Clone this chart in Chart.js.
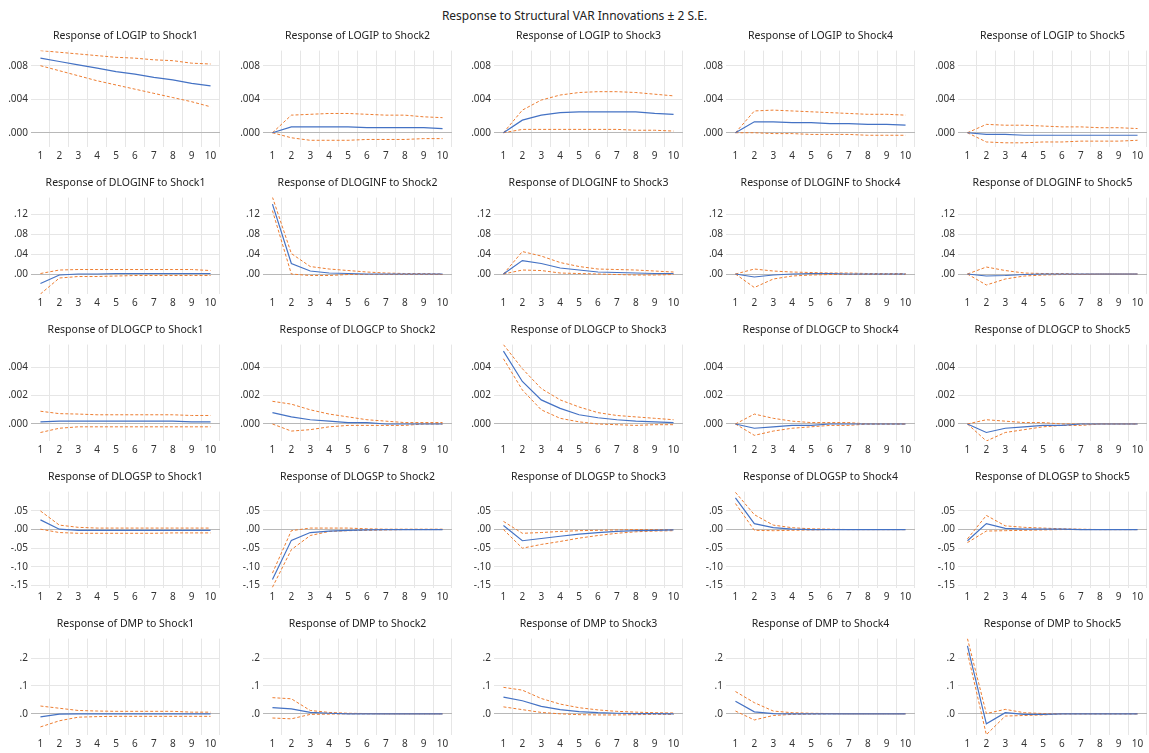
<!DOCTYPE html>
<html>
<head>
<meta charset="utf-8">
<script src="https://cdn.jsdelivr.net/npm/chart.js@4.4.1/dist/chart.umd.min.js"></script>
<style>
  body { margin: 0; background: #fff; }
  #wrap { position: relative; width: 1149px; height: 753px; overflow: hidden; }
  #main { position: absolute; left: 0; top: 7px; width: 1149px; text-align: center;
          font: 12px "Noto Sans", sans-serif; color: #222; }
  canvas { position: absolute; }
</style>
</head>
<body>
<div id="wrap">
  <div id="main">Response to Structural VAR Innovations ± 2 S.E.</div>
</div>
<script>
const periods = ["1", "2", "3", "4", "5", "6", "7", "8", "9", "10"];
const variables = ["LOGIP", "DLOGINF", "DLOGCP", "DLOGSP", "DMP"];
const shocks = ["Shock1", "Shock2", "Shock3", "Shock4", "Shock5"];

// y axis ticks and ranges, one per response variable (row)
const logipTicks = [0, 0.004, 0.008];
const dloginfTicks = [0, 0.04, 0.08, 0.12];
const dlogcpTicks = [0, 0.002, 0.004];
const dlogspTicks = [-0.15, -0.10, -0.05, 0, 0.05];
const dmpTicks = [0, 0.1, 0.2];
const rowRanges = [[-0.0017, 0.0098], [-0.040, 0.153], [-0.0012, 0.0056], [-0.157, 0.102], [-0.076, 0.270]];
const rowDecimals = [3, 2, 3, 2, 1];

// impulse responses (rows = shock1..shock5)
const logipIrf = [
  [0.0089, 0.0085, 0.0081, 0.0077, 0.0073, 0.0070, 0.0066, 0.0063, 0.0059, 0.0056],
  [0, 0.0007, 0.0007, 0.0007, 0.0007, 0.0006, 0.0006, 0.0006, 0.0006, 0.0005],
  [0, 0.0015, 0.0021, 0.0024, 0.0025, 0.0025, 0.0025, 0.0025, 0.0023, 0.0022],
  [0, 0.0013, 0.0013, 0.0012, 0.0012, 0.0011, 0.0011, 0.0010, 0.0010, 0.0009],
  [0, -0.0002, -0.0002, -0.0003, -0.0003, -0.0003, -0.0003, -0.0003, -0.0003, -0.0003]
];
const logipUpper = [
  [0.0098, 0.0096, 0.0094, 0.0092, 0.0090, 0.0089, 0.0087, 0.0086, 0.0083, 0.0082],
  [0, 0.0021, 0.0022, 0.0023, 0.0023, 0.0022, 0.0021, 0.0021, 0.0019, 0.0018],
  [0, 0.0027, 0.0039, 0.0045, 0.0048, 0.0049, 0.0049, 0.0048, 0.0046, 0.0044],
  [0, 0.0026, 0.0027, 0.0026, 0.0025, 0.0024, 0.0023, 0.0022, 0.0022, 0.0021],
  [0, 0.0010, 0.0009, 0.0009, 0.0008, 0.0007, 0.0007, 0.0006, 0.0006, 0.0005]
];
const logipLower = [
  [0.0080, 0.0074, 0.0068, 0.0062, 0.0057, 0.0052, 0.0047, 0.0042, 0.0037, 0.0031],
  [0, -0.0006, -0.0009, -0.0009, -0.0009, -0.0008, -0.0008, -0.0008, -0.0007, -0.0007],
  [0, 0.0004, 0.0004, 0.0004, 0.0004, 0.0004, 0.0004, 0.0003, 0.0003, 0.0002],
  [0, 0.0000, -0.0001, -0.0001, -0.0002, -0.0002, -0.0002, -0.0003, -0.0003, -0.0003],
  [0, -0.0011, -0.0012, -0.0012, -0.0011, -0.0011, -0.0010, -0.0010, -0.0010, -0.0009]
];

const dloginfIrf = [
  [-0.019, -0.002, 0.000, 0.000, 0.001, 0.001, 0.001, 0.001, 0.001, 0.001],
  [0.140, 0.021, 0.006, 0.002, 0.001, 0.000, 0.000, 0.000, 0.000, 0.000],
  [0, 0.027, 0.021, 0.012, 0.008, 0.004, 0.003, 0.002, 0.001, 0.001],
  [0, -0.006, -0.002, 0.000, 0.001, 0.001, 0.000, 0.000, 0.000, 0.000],
  [0, -0.004, -0.003, -0.001, 0.000, 0.000, 0.000, 0.000, 0.000, 0.000]
];
const dloginfUpper = [
  [0.001, 0.008, 0.009, 0.009, 0.009, 0.009, 0.009, 0.009, 0.009, 0.007],
  [0.154, 0.041, 0.015, 0.010, 0.007, 0.004, 0.002, 0.001, 0.001, 0.000],
  [0, 0.045, 0.036, 0.023, 0.015, 0.010, 0.009, 0.008, 0.006, 0.004],
  [0, 0.010, 0.006, 0.004, 0.003, 0.002, 0.002, 0.001, 0.001, 0.001],
  [0, 0.014, 0.007, 0.002, 0.001, 0.001, 0.000, 0.000, 0.000, 0.000]
];
const dloginfLower = [
  [-0.040, -0.008, -0.005, -0.005, -0.004, -0.003, -0.003, -0.003, -0.003, -0.003],
  [0.127, 0.000, -0.003, -0.003, -0.001, -0.001, -0.001, -0.001, -0.001, -0.001],
  [0, 0.008, 0.007, 0.002, 0.001, 0.000, -0.001, -0.002, -0.002, -0.001],
  [0, -0.027, -0.010, -0.004, -0.002, -0.001, -0.001, -0.001, -0.001, -0.001],
  [0, -0.022, -0.010, -0.004, -0.002, -0.001, -0.001, 0.000, 0.000, 0.000]
];

const dlogcpIrf = [
  [0.00015, 0.0002, 0.0002, 0.0002, 0.0002, 0.0002, 0.0002, 0.0002, 0.00015, 0.00015],
  [0.0008, 0.0005, 0.0003, 0.0002, 0.0001, 0.0001, 0.0000, 0.0000, 0.0000, 0.0000],
  [0.00514, 0.0030, 0.0017, 0.0011, 0.00065, 0.00044, 0.0003, 0.0002, 0.00015, 0.0001],
  [0, -0.0003, -0.0002, -0.0001, -0.0001, 0.0000, 0.0000, 0.0000, 0.0000, 0.0000],
  [0, -0.0006, -0.0003, -0.0002, -0.0001, -0.0001, 0.0000, 0.0000, 0.0000, 0.0000]
];
const dlogcpUpper = [
  [0.0009, 0.00073, 0.0007, 0.00065, 0.00065, 0.00065, 0.00065, 0.00065, 0.0006, 0.0006],
  [0.0016, 0.0014, 0.0010, 0.0007, 0.0005, 0.0003, 0.0002, 0.0001, 0.0001, 0.0001],
  [0.0056, 0.0039, 0.0025, 0.0017, 0.0012, 0.0008, 0.0006, 0.0005, 0.0004, 0.0003],
  [0, 0.0007, 0.0004, 0.0002, 0.0001, 0.0001, 0.0001, 0.0000, 0.0000, 0.0000],
  [0, 0.0003, 0.0002, 0.0001, 0.0001, 0.0000, 0.0000, 0.0000, 0.0000, 0.0000]
];
const dlogcpLower = [
  [-0.0006, -0.0003, -0.0002, -0.0002, -0.0002, -0.0002, -0.0002, -0.0002, -0.0002, -0.0002],
  [0.0000, -0.0005, -0.0004, -0.0002, -0.0001, -0.0001, -0.0001, -0.0001, 0.0000, 0.0000],
  [0.0046, 0.0024, 0.0010, 0.0004, 0.00015, 0.0000, -0.00005, -0.0001, -0.00005, -0.00005],
  [0, -0.0008, -0.0005, -0.0003, -0.0002, -0.0001, -0.0001, 0.0000, 0.0000, 0.0000],
  [0, -0.0012, -0.0006, -0.0004, -0.0002, -0.0001, -0.0001, 0.0000, 0.0000, 0.0000]
];

const dlogspIrf = [
  [0.026, 0.001, -0.002, -0.002, -0.002, -0.002, -0.002, -0.002, -0.002, -0.002],
  [-0.134, -0.029, -0.008, -0.004, -0.002, -0.001, 0.000, 0.000, 0.000, 0.000],
  [0.011, -0.030, -0.024, -0.018, -0.012, -0.008, -0.005, -0.003, -0.002, -0.001],
  [0.085, 0.016, 0.005, 0.001, 0.000, 0.000, 0.000, 0.000, 0.000, 0.000],
  [-0.030, 0.016, 0.003, 0.001, 0.001, 0.001, 0.000, 0.000, 0.000, 0.000]
];
const dlogspUpper = [
  [0.050, 0.012, 0.006, 0.004, 0.004, 0.004, 0.004, 0.004, 0.004, 0.004],
  [-0.117, -0.003, 0.004, 0.004, 0.004, 0.002, 0.001, 0.001, 0.001, 0.001],
  [0.022, -0.010, -0.008, -0.005, -0.003, -0.002, -0.001, 0.000, 0.000, 0.000],
  [0.100, 0.040, 0.012, 0.005, 0.002, 0.001, 0.000, 0.000, 0.000, 0.000],
  [-0.025, 0.038, 0.010, 0.006, 0.004, 0.002, 0.001, 0.000, 0.000, 0.000]
];
const dlogspLower = [
  [0.001, -0.008, -0.010, -0.010, -0.010, -0.010, -0.010, -0.009, -0.009, -0.009],
  [-0.155, -0.054, -0.016, -0.005, -0.003, -0.002, -0.001, 0.000, 0.000, 0.000],
  [0.000, -0.050, -0.040, -0.032, -0.023, -0.016, -0.010, -0.006, -0.004, -0.003],
  [0.070, -0.002, -0.003, -0.002, -0.001, 0.000, 0.000, 0.000, 0.000, 0.000],
  [-0.035, -0.004, -0.003, -0.002, -0.001, 0.000, 0.000, 0.000, 0.000, 0.000]
];

const dmpIrf = [
  [-0.011, -0.001, 0.000, 0.000, 0.000, 0.000, 0.000, 0.000, 0.000, 0.000],
  [0.022, 0.018, 0.005, 0.002, 0.000, 0.000, 0.000, 0.000, 0.000, 0.000],
  [0.060, 0.047, 0.027, 0.015, 0.008, 0.004, 0.002, 0.001, 0.001, 0.000],
  [0.045, 0.007, 0.001, 0.000, 0.000, 0.000, 0.000, 0.000, 0.000, 0.000],
  [0.244, -0.036, 0.004, -0.002, -0.002, 0.000, 0.000, 0.000, 0.000, 0.000]
];
const dmpUpper = [
  [0.028, 0.020, 0.012, 0.010, 0.009, 0.009, 0.009, 0.009, 0.006, 0.006],
  [0.058, 0.054, 0.012, 0.005, 0.002, 0.001, 0.000, 0.000, 0.000, 0.000],
  [0.095, 0.085, 0.055, 0.035, 0.022, 0.014, 0.009, 0.006, 0.004, 0.003],
  [0.080, 0.040, 0.010, 0.004, 0.002, 0.001, 0.000, 0.000, 0.000, 0.000],
  [0.270, 0.001, 0.016, 0.004, 0.001, 0.000, 0.000, 0.000, 0.000, 0.000]
];
const dmpLower = [
  [-0.047, -0.025, -0.012, -0.010, -0.009, -0.009, -0.009, -0.009, -0.009, -0.009],
  [-0.015, -0.018, -0.002, -0.001, 0.000, 0.000, 0.000, 0.000, 0.000, 0.000],
  [0.025, 0.015, 0.005, 0.000, -0.003, -0.004, -0.004, -0.003, -0.002, -0.002],
  [0.010, -0.022, -0.006, -0.002, -0.001, 0.000, 0.000, 0.000, 0.000, 0.000],
  [0.219, -0.075, -0.008, -0.006, -0.004, 0.000, 0.000, 0.000, 0.000, 0.000]
];

const rowTicks = [logipTicks, dloginfTicks, dlogcpTicks, dlogspTicks, dmpTicks];
const irfs = [logipIrf, dloginfIrf, dlogcpIrf, dlogspIrf, dmpIrf];
const uppers = [logipUpper, dloginfUpper, dlogcpUpper, dlogspUpper, dmpUpper];
const lowers = [logipLower, dloginfLower, dlogcpLower, dlogspLower, dmpLower];

// layout
const plotLeft = [31, 263, 494, 726, 958];
const plotW = 189;
const yAxisW = 31;
const padRight = 6;
const rowStep = 147;
const firstTop = 22;
const canvasH = 142;
const font = "Noto Sans";

function fmtTick(v, dec) {
  let s = Math.abs(v).toFixed(dec).replace(/^0\./, ".");
  return (v < 0 ? "-" : "") + s;
}

const wrap = document.getElementById("wrap");

function makePanel(r, c) {
  const cv = document.createElement("canvas");
  const W = yAxisW + plotW + padRight;
  cv.width = W;
  cv.height = canvasH;
  cv.style.left = (plotLeft[c] - yAxisW) + "px";
  cv.style.top = (firstTop + rowStep * r) + "px";
  cv.style.width = W + "px";
  cv.style.height = canvasH + "px";
  wrap.appendChild(cv);

  const band = { borderColor: "#ED7D31", borderWidth: 1, borderDash: [3, 2], pointRadius: 0, tension: 0, fill: false };

  new Chart(cv, {
    type: "line",
    data: {
      labels: periods,
      datasets: [
        { data: irfs[r][c], borderColor: "#4472C4", borderWidth: 1.2, pointRadius: 0, tension: 0, fill: false },
        Object.assign({ data: uppers[r][c] }, band),
        Object.assign({ data: lowers[r][c] }, band)
      ]
    },
    options: {
      responsive: false,
      animation: false,
      layout: { padding: { left: 0, right: padRight, top: 0, bottom: 0 } },
      plugins: {
        legend: { display: false },
        tooltip: { enabled: false },
        title: {
          display: true,
          fullSize: false,
          text: `Response of ${variables[r]} to ${shocks[c]}`,
          color: "#222",
          font: { family: font, size: 10.5, weight: "normal" },
          padding: { top: 8, bottom: 8 }
        }
      },
      scales: {
        x: {
          type: "category",
          offset: true,
          border: { display: false },
          grid: {
            offset: true,
            drawTicks: false,
            color: (ctx) => (ctx.index === 0 || ctx.index === periods.length) ? "rgba(0,0,0,0)" : "#e6e6e6"
          },
          ticks: { padding: 3, color: "#333", font: { family: font, size: 10 }, maxRotation: 0, autoSkip: false },
          afterFit: (s) => { s.height = 17; }
        },
        y: {
          min: rowRanges[r][0],
          max: rowRanges[r][1],
          border: { display: false },
          grid: {
            drawTicks: false,
            color: (ctx) => (ctx.tick && ctx.tick.value === 0) ? "#b8b8b8" : "#e6e6e6"
          },
          ticks: {
            padding: 3,
            color: "#333",
            font: { family: font, size: 10 },
            callback: (v) => fmtTick(v, rowDecimals[r])
          },
          afterBuildTicks: (s) => { s.ticks = rowTicks[r].map((v) => ({ value: v })); },
          afterFit: (s) => { s.width = yAxisW; }
        }
      }
    }
  });
}

for (let r = 0; r < variables.length; r++) {
  for (let c = 0; c < shocks.length; c++) {
    makePanel(r, c);
  }
}
</script>
</body>
</html>
